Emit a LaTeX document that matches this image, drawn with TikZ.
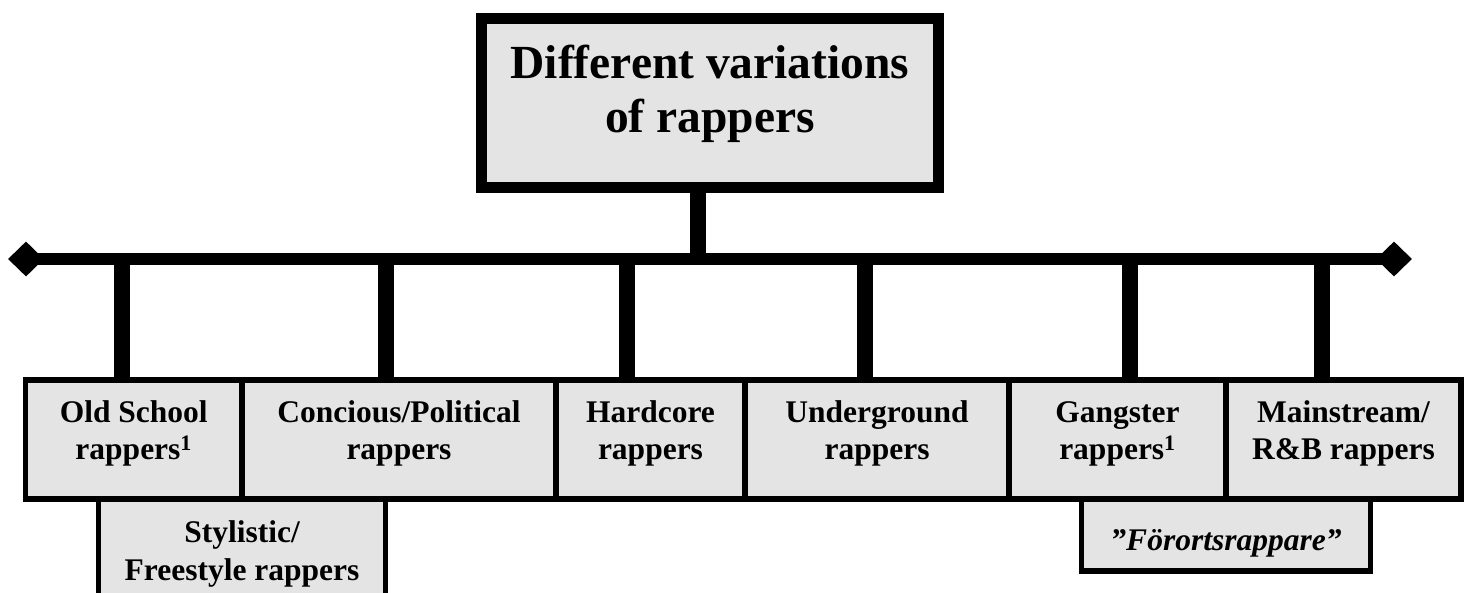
\documentclass[tikz,border=0pt]{standalone}
\usepackage{fontspec}
\setmainfont{Liberation Serif}
\definecolor{boxGray}{HTML}{E4E4E4}
\usetikzlibrary{positioning,shapes.geometric}

\begin{document}
\begin{tikzpicture}[
                x=1pt, y=-1pt,
                node distance=0pt,
                topbox/.style={fill=boxGray, draw=black, line width=11.5pt,
                               minimum width=457pt, minimum height=169pt, inner sep=0pt, outer sep=0pt},
                catbox/.style={fill=boxGray, draw=black, line width=5.5pt,
                               minimum height=119pt, inner sep=0pt, outer sep=0pt},
                toptxt/.style={align=center, inner sep=0pt,
                               font=\fontsize{47.5}{54}\selectfont\bfseries},
                cattxt/.style={align=center, inner sep=0pt,
                               font=\fontsize{31.5}{37.5}\selectfont\bfseries},
                endmark/.style={diamond, fill=black, minimum width=36pt,
                                minimum height=35pt, inner sep=0pt},
                bar/.style={line width=12pt},
                drop/.style={line width=16pt}
            ]
                \useasboundingbox (0,0) rectangle (1464,593);
                \clip (0,0) rectangle (1464,593);

                % main box
                \node[topbox] (top) at (710,103) {};
                \node[toptxt, anchor=base] (toptext) at (top.center |- 0,133) {Different variations\\of rappers};

                % bar
                \node[endmark] (lend) at (26,259) {};
                \node[endmark] (rend) at (1394,259) {};
                \draw[bar] (lend.center) -- (rend.center);
                \draw[drop] ([xshift=-12pt]top.south) -- ([xshift=-12pt]top.south |- lend);

                % rapper types
                \node[catbox, minimum width=216.5pt] (old) at (133.75,439.5) {};
                \node[catbox, minimum width=314pt, right=of old] (concious) {};
                \node[catbox, minimum width=189pt, right=of concious] (hardcore) {};
                \node[catbox, minimum width=264pt, right=of hardcore] (underground) {};
                \node[catbox, minimum width=217pt, right=of underground] (gangster) {};
                \node[catbox, minimum width=235pt, right=of gangster] (mainstream) {};
                \node[catbox, minimum width=287pt, minimum height=110pt, below=of old.south east] (stylistic) {};
                \node[catbox, minimum width=289pt, minimum height=72pt, below=of gangster.south east] (forort) {};

                \foreach \x/\type in {122/old, 386/concious, 627/hardcore, 865/underground, 1130/gangster, 1322/mainstream}
                    \draw[drop] (\x,0 |- lend) -- (\x,0 |- \type.north);

                \node[cattxt, anchor=base] (oldtxt) at (old.center |- 0,459.5) {Old School\\rappers\textsuperscript{1}};
                \node[cattxt, anchor=base] (conscioustxt) at (concious.center |- 0,459.5) {Concious/Political\\rappers};
                \node[cattxt, anchor=base] (hardcoretxt) at (hardcore.center |- 0,459.5) {Hardcore\\rappers};
                \node[cattxt, anchor=base] (undergroundtxt) at (underground.center |- 0,459.5) {Underground\\rappers};
                \node[cattxt, anchor=base] (gangstertxt) at (gangster.center |- 0,459.5) {Gangster\\rappers\textsuperscript{1}};
                \node[cattxt, anchor=base] (mainstreamtxt) at (mainstream.center |- 0,459.5) {Mainstream/\\R\&B rappers};
                \node[cattxt, anchor=base] (stylistictxt) at (stylistic.center |- 0,580) {Stylistic/\\Freestyle rappers};
                \node[cattxt, anchor=base, font=\fontsize{31.5}{37.5}\selectfont\bfseries\itshape] (fororttxt) at (forort.center |- 0,550) {”Förortsrappare”};
            \end{tikzpicture}
\end{document}
